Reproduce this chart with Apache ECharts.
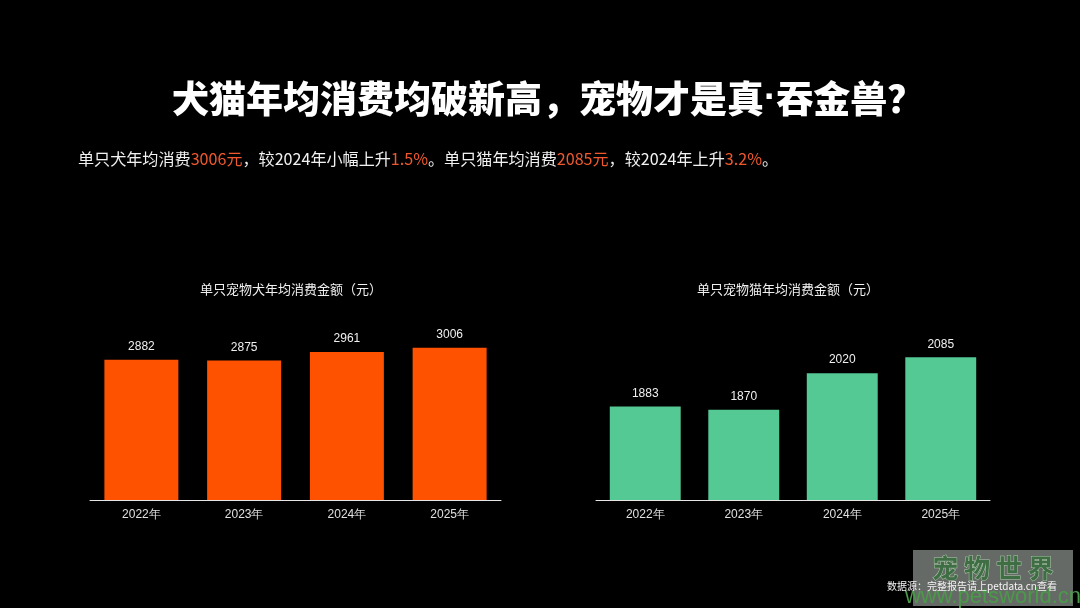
<!DOCTYPE html>
<html>
<head>
<meta charset="utf-8">
<script src="https://cdn.jsdelivr.net/npm/echarts@6/dist/echarts.min.js"></script>
<style>
html,body{margin:0;padding:0;background:#000;}
#main{width:1080px;height:608px;}
</style>
</head>
<body>
<div id="main"></div>
<script>
const years = ['2022年', '2023年', '2024年', '2025年'];
const dogValues = [2882, 2875, 2961, 3006];
const catValues = [1883, 1870, 2020, 2085];
const titleHead = '犬猫年均消费均破新高，宠物才是真';
const titleTail = '吞金兽？';
const dogTitle = '单只宠物犬年均消费金额（元）';
const catTitle = '单只宠物猫年均消费金额（元）';
const sourceText = '数据源：完整报告请上petdata.cn查看';
const subParts = [
  ['w', '单只犬年均消费'], ['o', '3006元'], ['w', '，较2024年小幅上升'], ['o', '1.5%'],
  ['w', '。单只猫年均消费'], ['o', '2085元'], ['w', '，较2024年上升'], ['o', '3.2%'], ['w', '。']
];

const CJK = '"Noto Sans CJK SC", "Noto Sans", sans-serif';
const NUM = '"Liberation Sans", Arial, sans-serif';

const chart = echarts.init(document.getElementById('main'));

function xAx(idx) {
  return {
    type: 'category', gridIndex: idx, data: years,
    axisLine: {lineStyle: {color: '#e6e6e6', width: 1}},
    axisTick: {show: false},
    axisLabel: {color: '#e0e0e0', fontSize: 12, fontFamily: NUM, margin: 9}
  };
}
function yAx(idx, min, max) {
  return {
    type: 'value', gridIndex: idx, min: min, max: max, show: false,
    splitLine: {show: false}
  };
}
function barSeries(idx, data, color) {
  return {
    type: 'bar', xAxisIndex: idx, yAxisIndex: idx, data: data,
    barCategoryGap: '28%',
    itemStyle: {color: color},
    label: {show: true, position: 'top', distance: 7, color: '#f0f0f0', fontSize: 12, fontFamily: NUM}
  };
}

const subText = subParts.map(p => '{' + p[0] + '|' + p[1] + '}').join('');

chart.setOption({
  backgroundColor: '#000',
  animation: false,
  title: [
    {
      text: '{a|' + titleHead + '}{d|·}{a|' + titleTail + '}',
      left: 167, top: 75,
      textStyle: {
        rich: {
          a: {color: '#fff', fontSize: 37, fontWeight: 900, fontFamily: CJK},
          d: {color: '#fff', fontSize: 37, fontWeight: 900, fontFamily: NUM}
        }
      }
    },
    {
      text: subText, left: 73, top: 146,
      textStyle: {
        fontWeight: 'normal',
        rich: {
          w: {color: '#f2f2f2', fontSize: 16.1, fontWeight: 'normal', fontFamily: CJK},
          o: {color: '#f0592e', fontSize: 16.1, fontWeight: 'normal', fontFamily: CJK}
        }
      }
    }
  ],
  grid: [
    {left: 90, width: 411, top: 300, height: 200},
    {left: 596, width: 394, top: 300, height: 200}
  ],
  xAxis: [xAx(0), xAx(1)],
  yAxis: [yAx(0, 1430, 3500), yAx(1, 1500, 2320)],
  series: [barSeries(0, dogValues, '#ff5200'), barSeries(1, catValues, '#55c993')],
  graphic: [
    {type: 'text', x: 291, y: 289, style: {text: dogTitle, fill: '#f0f0f0', font: '13px ' + CJK, textAlign: 'center', textVerticalAlign: 'middle'}},
    {type: 'text', x: 788, y: 289, style: {text: catTitle, fill: '#f0f0f0', font: '13px ' + CJK, textAlign: 'center', textVerticalAlign: 'middle'}},
    {type: 'rect', shape: {x: 913, y: 550, width: 160, height: 56}, style: {fill: 'rgba(120,125,120,0.85)'}},
    {type: 'text', x: 993, y: 568, style: {text: '宠 物 世 界', fill: '#3f6e45', font: 'bold 26px ' + CJK, textAlign: 'center', textVerticalAlign: 'middle', stroke: '#a9c9a8', lineWidth: 1}},
    {type: 'text', x: 993, y: 597, style: {text: 'www.petsworld.cn', fill: '#4a9a4a', font: '22px ' + NUM, textAlign: 'center', textVerticalAlign: 'middle'}},
    {type: 'text', x: 887, y: 586, style: {text: sourceText, fill: '#f5f5f5', font: '10px ' + CJK, textVerticalAlign: 'middle'}}
  ]
});
</script>
</body>
</html>
